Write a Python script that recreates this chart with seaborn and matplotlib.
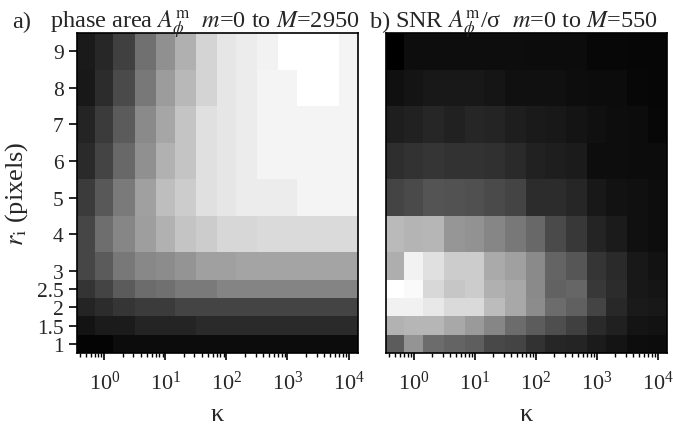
import numpy as np
import matplotlib
matplotlib.use('Agg')
import matplotlib.pyplot as plt
import matplotlib.ticker as mticker
import seaborn as sns

# kappa (columns) and r_i (rows)
kappa = [0.5, 1, 2, 5, 10, 20, 50, 100, 200, 500, 1000, 2000, 5000, 10000]
r_i = [1, 1.5, 2, 2.5, 3, 4, 5, 6, 7, 8, 9]
x_ticks = [1, 10, 100, 1000, 10000]
y_ticks = [1, 1.5, 2, 2.5, 3, 4, 5, 6, 7, 8, 9]
y_ticklabels = ['1', '1.5', '2', '2.5', '3', '4', '5', '6', '7', '8', '9']

# a) phase area, rows r=1 ... r=9
area_max = 2950
area = [
    [50, 50, 140, 140, 140, 140, 140, 140, 140, 140, 140, 140, 140, 140],
    [230, 320, 320, 420, 420, 420, 490, 490, 490, 490, 490, 490, 490, 490],
    [420, 510, 620, 690, 690, 790, 790, 790, 790, 790, 790, 790, 790, 790],
    [600, 790, 1060, 1250, 1300, 1410, 1410, 1530, 1530, 1530, 1530, 1530, 1530, 1530],
    [810, 1060, 1390, 1570, 1620, 1710, 1850, 1850, 1900, 1900, 1900, 1900, 1900, 1900],
    [810, 1270, 1550, 1830, 2040, 2270, 2360, 2480, 2480, 2520, 2520, 2520, 2520, 2520],
    [690, 1020, 1410, 1850, 2200, 2360, 2590, 2660, 2730, 2730, 2730, 2820, 2820, 2820],
    [490, 790, 1200, 1670, 2040, 2270, 2590, 2660, 2730, 2820, 2820, 2820, 2820, 2820],
    [420, 690, 1060, 1600, 1920, 2270, 2590, 2660, 2730, 2820, 2820, 2820, 2820, 2820],
    [280, 510, 860, 1390, 1800, 2130, 2450, 2660, 2730, 2820, 2820, 2950, 2950, 2820],
    [300, 460, 740, 1300, 1670, 2030, 2450, 2660, 2730, 2800, 2950, 2950, 2950, 2820],
]

# b) SNR, rows r=1 ... r=9
snr_max = 550
snr = [
    [198, 319, 233, 216, 203, 155, 147, 108, 82, 78, 60, 43, 30, 26],
    [384, 393, 393, 362, 332, 289, 233, 198, 168, 138, 91, 69, 43, 39],
    [518, 518, 500, 470, 470, 405, 362, 302, 233, 207, 147, 86, 56, 52],
    [550, 539, 466, 427, 440, 380, 362, 298, 211, 220, 121, 95, 52, 47],
    [375, 522, 483, 440, 440, 367, 345, 298, 216, 185, 116, 91, 52, 39],
    [401, 388, 393, 324, 315, 289, 259, 224, 160, 121, 78, 60, 35, 30],
    [147, 160, 181, 177, 173, 160, 147, 95, 95, 82, 52, 39, 35, 30],
    [99, 108, 116, 108, 108, 104, 91, 73, 65, 60, 30, 30, 26, 26],
    [65, 73, 82, 73, 82, 78, 65, 56, 52, 43, 35, 30, 26, 17],
    [35, 43, 52, 52, 52, 47, 35, 35, 35, 30, 26, 26, 17, 13],
    [0, 30, 30, 30, 30, 30, 30, 26, 26, 26, 17, 17, 13, 13],
]

sns.set_theme(style='ticks')
plt.rcParams['font.family'] = ['Liberation Serif', 'DejaVu Serif']
plt.rcParams['mathtext.fontset'] = 'stix'


def cell_edges(centers, log=False):
    c = np.log10(centers) if log else np.asarray(centers, dtype=float)
    mid = (c[1:] + c[:-1]) / 2
    e = np.concatenate([[c[0] - (c[1] - c[0]) / 2], mid, [c[-1] + (c[-1] - c[-2]) / 2]])
    return 10 ** e if log else e


x_edges = cell_edges(kappa, log=True)
y_edges = cell_edges(r_i)

fig = plt.figure(figsize=(6.73, 4.31), dpi=100)
W, H = 673, 431
ax1 = fig.add_axes([76.7 / W, 77 / H, 281 / W, 320 / H])
ax2 = fig.add_axes([386 / W, 77 / H, 280.7 / W, 320 / H])

ax1.pcolormesh(x_edges, y_edges, np.array(area), cmap='gray', vmin=0, vmax=area_max)
ax2.pcolormesh(x_edges, y_edges, np.array(snr), cmap='gray', vmin=0, vmax=snr_max)

for ax in (ax1, ax2):
    ax.set_xscale('log')
    ax.set_xlim(x_edges[0], x_edges[-1])
    ax.set_ylim(y_edges[0], y_edges[-1])
    ax.xaxis.set_major_locator(mticker.FixedLocator(x_ticks))
    ax.xaxis.set_major_formatter(mticker.LogFormatterSciNotation())
    ax.xaxis.set_minor_locator(mticker.LogLocator(base=10, subs=np.arange(2, 10), numticks=20))
    for s in ax.spines.values():
        s.set_visible(True)
        s.set_color('black')
        s.set_linewidth(1.2)
    ax.tick_params(axis='x', which='major', direction='out', length=5, width=1.2,
                   labelsize=16, color='black', bottom=True, pad=8)
    ax.tick_params(axis='x', which='minor', direction='out', length=3, width=1,
                   color='black', bottom=True)
    ax.set_xlabel('κ', fontsize=19, labelpad=6)

ax1.set_yticks(y_ticks)
ax1.set_yticklabels(y_ticklabels)
ax1.tick_params(axis='y', which='major', direction='out', length=5.5, width=1.2,
                labelsize=15.5, color='black', left=True, pad=4)
ax1.set_ylabel(r'$r_{\rm i}$ (pixels)', fontsize=19, labelpad=5)
ax2.set_yticks([])

fig.text(12 / W, 1 - 28 / H, 'a)', fontsize=17.5, va='baseline')
fig.text(50 / W, 1 - 28 / H, r'phase area $A^{\rm m}_{\phi}$  $m$=0 to $M$=2950',
         fontsize=17.5, va='baseline')
fig.text(370 / W, 1 - 28 / H, 'b)', fontsize=17.5, va='baseline')
fig.text(395 / W, 1 - 28 / H, r'SNR $A^{\rm m}_{\phi}$/σ  $m$=0 to $M$=550',
         fontsize=17.5, va='baseline')

fig.savefig('out.png', dpi=100)
